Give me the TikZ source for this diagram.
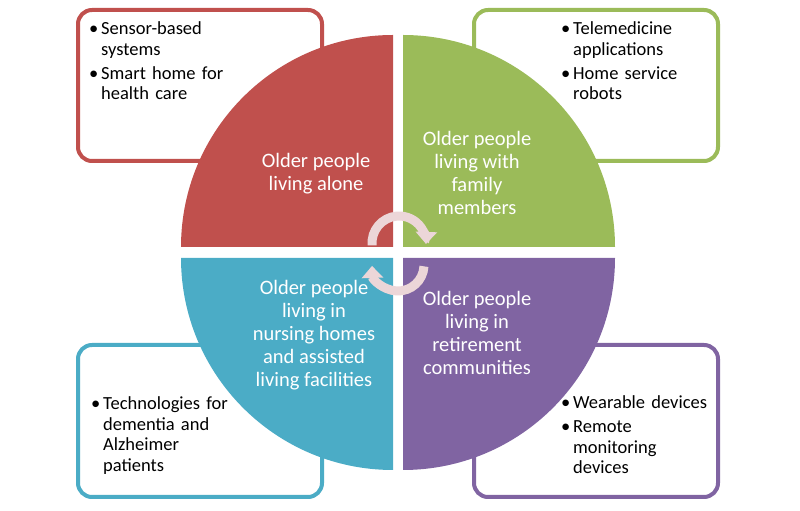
\documentclass[tikz,border=0pt]{standalone}
\usepackage{fontspec}
\setmainfont{Carlito}
\usepackage{tikz}
\usetikzlibrary{arrows.meta}
\definecolor{qred}{RGB}{192,80,77}
\definecolor{qgreen}{RGB}{155,187,89}
\definecolor{qblue}{RGB}{75,172,198}
\definecolor{qpurple}{RGB}{128,100,162}
\definecolor{cycpink}{RGB}{236,214,216}
\newcommand{\bitem}[1]{\par\noindent\hangindent=12pt\hangafter=1\makebox[12pt][l]{\textbullet}#1\par}

\begin{document}
\begin{tikzpicture}[x=1pt,y=1pt,
  box/.style={draw, line width=4pt, rounded corners=14pt, fill=white, minimum width=244pt},
  quadtext/.style={text=white, align=center, font=\fontsize{20.5}{23}\selectfont},
  listtext/.style={anchor=north west, inner sep=0pt, text width=200pt, align=left, font=\fontsize{18.5}{20.5}\selectfont},
  cyc/.style={draw=cycpink, line width=9pt, -{Triangle[width=21pt,length=12pt]}}]
\useasboundingbox (0,0) rectangle (800,511);
% boxes behind the circle
\node[box, draw=qred, minimum height=151pt] (redbox) at (200,425.5) {};
\node[box, draw=qgreen, minimum height=151pt] (greenbox) at (596,425.5) {};
\node[box, draw=qblue, minimum height=152pt] (bluebox) at (200,90) {};
\node[box, draw=qpurple, minimum height=152pt] (purplebox) at (596,90) {};
% quarter circles
\fill[qred] (393,264) -- ++(-212,0) arc[start angle=180, end angle=90, radius=212] -- cycle;
\fill[qgreen] (403,264) -- ++(0,212) arc[start angle=90, end angle=0, radius=212] -- cycle;
\fill[qblue] (393,253) -- ++(-212,0) arc[start angle=180, end angle=270, radius=212] -- cycle;
\fill[qpurple] (403,253) -- ++(212,0) arc[start angle=0, end angle=-90, radius=212] -- cycle;
% texts in the quarters
\node[quadtext] (alone) at (316,337) {Older people\\living alone};
\node[quadtext] (family) at (477,338) {Older people\\living with\\family\\members};
\node[quadtext] (nursing) at (314,175.5) {Older people\\living in\\nursing homes\\and assisted\\living facilities};
\node[quadtext] (retire) at (477,178) {Older people\\living in\\retirement\\communities};
% lists
\node[listtext] (redlist) at (89,497) {\bitem{Sensor-based\newline systems}\vspace{3.5pt}\bitem{Smart home for\newline health care}};
\node[listtext] (greenlist) at (561,497) {\bitem{Telemedicine\newline applications}\vspace{3.5pt}\bitem{Home service\newline robots}};
\node[listtext] (bluelist) at (91,122) {\bitem{Technologies for\newline dementia and\newline Alzheimer\newline patients}};
\node[listtext] (purplelist) at (561,123) {\bitem{Wearable devices}\vspace{3.5pt}\bitem{Remote\newline monitoring\newline devices}};
% cycle arrows
\draw[cyc] (399,268) ++(185:27) arc[start angle=185, end angle=-2, radius=27];
\draw[cyc] (398,246) ++(-3:26) arc[start angle=-3, end angle=-178, radius=26];
\end{tikzpicture}
\end{document}
